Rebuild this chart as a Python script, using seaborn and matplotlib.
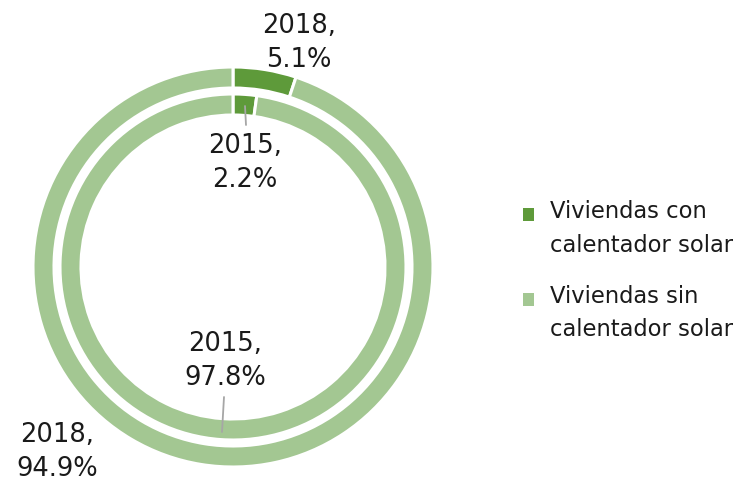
import matplotlib
matplotlib.use("Agg")
import matplotlib.pyplot as plt
import seaborn as sns

# Share of dwellings with / without solar water heater
categories = ["Viviendas con\ncalentador solar", "Viviendas sin\ncalentador solar"]
years = ["2018", "2015"]
values_2018 = [5.1, 94.9]
values_2015 = [2.2, 97.8]

sns.set_theme(style="white")
plt.rcParams["font.family"] = ["DejaVu Sans"]

colors = ["#5e9a3a", "#a3c792"]

fig = plt.figure(figsize=(7.46, 4.84), dpi=100)
ax = fig.add_axes([33 / 746, 17 / 484, 400 / 746, 400 / 484])
ax.axis("off")

ring_w = 0.105
wedge_style = dict(edgecolor="white", linewidth=2.2)

outer, _ = ax.pie(values_2018, radius=1.0, colors=colors, startangle=90,
                  counterclock=False, wedgeprops=dict(width=ring_w, **wedge_style))
inner, _ = ax.pie(values_2015, radius=0.865, colors=colors, startangle=90,
                  counterclock=False, wedgeprops=dict(width=ring_w, **wedge_style))
ax.set_xlim(-1, 1)
ax.set_ylim(-1, 1)
ax.set_aspect("equal")

lab_kw = dict(ha="center", va="center", fontsize=18.5, color="#1a1a1a",
              linespacing=1.4, clip_on=False)
ax.text(0.33, 1.122, f"{years[0]},\n{values_2018[0]}%", **lab_kw)
ax.text(0.06, 0.52, f"{years[1]},\n{values_2015[0]}%", **lab_kw)
ax.text(-0.04, -0.47, f"{years[1]},\n{values_2015[1]}%", **lab_kw)
ax.text(-0.88, -0.925, f"{years[0]},\n{values_2018[1]}%", **lab_kw)

# leader lines
line_kw = dict(color="#a6a6a6", linewidth=1.3, clip_on=False)
ax.plot([0.06, 0.065], [0.805, 0.71], **line_kw)
ax.plot([-0.045, -0.055], [-0.65, -0.825], **line_kw)

leg = fig.legend(outer, categories, loc="upper left",
                 bbox_to_anchor=(523 / 746, 1 - 200 / 484),
                 frameon=False, fontsize=16.3, handlelength=0.5, handleheight=0.5,
                 handletextpad=0.7, labelspacing=1.23, borderpad=0, borderaxespad=0)
for t in leg.get_texts():
    t.set_linespacing(1.6)
    t.set_color("#1a1a1a")
for h in leg.legend_handles:
    h.set_edgecolor("none")
    h.set_y(h.get_y() + 10.5)

fig.savefig("out.png", dpi=100)
